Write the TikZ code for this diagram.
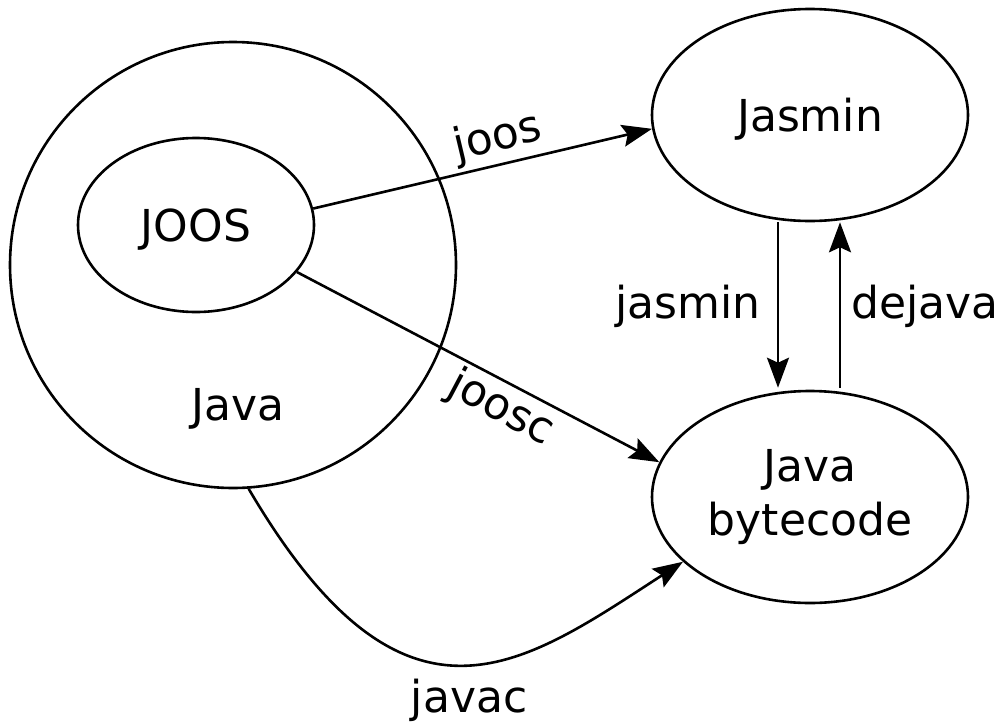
\documentclass[tikz,border=0pt]{standalone}
\usepackage{fontspec}
\setmainfont{DejaVu Sans}
\usetikzlibrary{shapes.geometric,arrows.meta}
\begin{document}
\begin{tikzpicture}[x=1pt,y=-1pt,
  every node/.style={font=\fontsize{44pt}{54pt}\selectfont, inner sep=0pt},
  lang/.style={draw, line width=2.6pt, ellipse, minimum width=#1, minimum height=212pt},
  conn/.style={line width=2.6pt, -{Stealth[length=30pt,width=22pt,inset=5pt]}},
  lbl/.style={anchor=base}]
\useasboundingbox (0,0) rectangle (1004,723);
% nodes
\node[draw, line width=2.6pt, circle, minimum size=446pt] (java) at (233,265) {};
\node[lbl] (javalbl) at (238,420) {Java};
\node[draw, line width=2.6pt, ellipse, minimum width=236pt, minimum height=174pt, text depth=0pt] (joos) at (196,225) {JOOS};
\node[lang=316pt, text depth=0pt] (jasmin) at (810,115) {Jasmin};
\node[lang=316pt, align=center] (bytecode) at (810,497) {Java\\bytecode};
% connectors
\draw[conn] (joos.8) -- (jasmin.185);
\node[rotate=13.4] (lj) at (498,138) {joos};
\draw[conn] (joos.-25) -- (bytecode.167);
\node[rotate=-27.9] (ljc) at (501,409) {joosc};
\draw[conn] ([xshift=-32pt]jasmin.south) -- ([xshift=-32pt,yshift=2pt]bytecode.north);
\node[lbl] (ljas) at (688,318) {jasmin};
\draw[conn] ([xshift=30pt,yshift=2pt]bytecode.north) -- ([xshift=30pt]jasmin.south);
\node[lbl] (ldej) at (925,318) {dejava};
\coordinate (c1) at (405,755);
\coordinate (c2) at (522,666);
\draw[conn] (java.-86) .. controls (c1) and (c2) .. (bytecode.207);
\node[lbl] (ljavac) at (469,712) {javac};
\end{tikzpicture}
\end{document}
